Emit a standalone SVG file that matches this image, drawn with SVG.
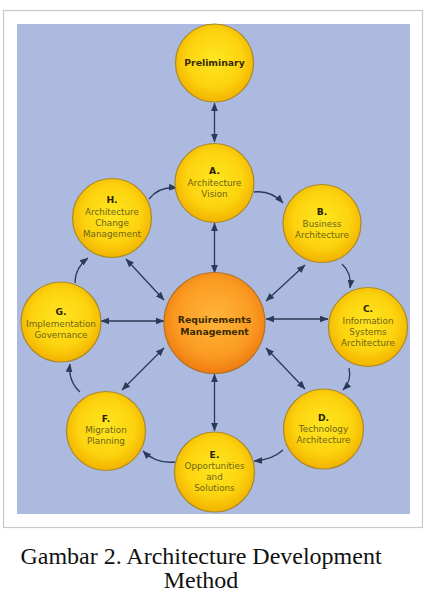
<svg xmlns="http://www.w3.org/2000/svg" width="425" height="593" viewBox="0 0 425 593">
<style>
.frame{fill:#ffffff;stroke:#c9c9c9;stroke-width:1.2}
.panel{fill:#adbadf}
.node circle{fill:url(#gy);stroke:#a88a2c;stroke-width:1.2}
.node circle.req{fill:url(#go);stroke:#b0722a}
.lbl{font-family:"DejaVu Sans",Verdana,sans-serif;font-size:8.8px;fill:#6e6414;text-anchor:middle}
.ltr{font-family:"DejaVu Sans",Verdana,sans-serif;font-size:9.2px;font-weight:bold;fill:#2a2200;text-anchor:middle}
.big{font-family:"DejaVu Sans",Verdana,sans-serif;font-size:9.3px;font-weight:bold;fill:#3a2a00;text-anchor:middle}
.cap{font-family:"Liberation Serif","Times New Roman",serif;font-size:24px;fill:#111;text-anchor:middle}
#connectors path{fill:none;stroke:#2b3a55;stroke-width:1.3}
.two{marker-start:url(#ah);marker-end:url(#ah)}
.one{marker-end:url(#ah)}
</style>
<defs>
<radialGradient id="gy" cx="50%" cy="45%" r="55%">
<stop offset="0" stop-color="#ffe622"/>
<stop offset="0.65" stop-color="#fcd30e"/>
<stop offset="1" stop-color="#f2b200"/>
</radialGradient>
<radialGradient id="go" cx="50%" cy="45%" r="55%">
<stop offset="0" stop-color="#ffb63a"/>
<stop offset="0.7" stop-color="#fb9a22"/>
<stop offset="1" stop-color="#ef7c10"/>
</radialGradient>
<marker id="ah" viewBox="0 0 10 10" refX="9.5" refY="5" markerWidth="8.5" markerHeight="8.5" markerUnits="userSpaceOnUse" orient="auto-start-reverse">
<path d="M0,1 L10,5 L0,9 Z" fill="#2b3a55"/>
</marker>
</defs>

<rect class="frame" x="3.5" y="10.5" width="419" height="517"/>
<rect class="panel" x="17" y="24" width="393" height="490"/>

<g id="connectors">
<path class="two" d="M214.5,103 L214.5,142"/>
<path class="two" d="M214.5,223 L214.5,273"/>
<path class="two" d="M214.5,374 L214.5,431"/>
<path class="two" d="M126,259 L164,300"/>
<path class="two" d="M305,265 L266,301"/>
<path class="two" d="M101,321 L164,321"/>
<path class="two" d="M266,319 L328,319"/>
<path class="two" d="M164,348 L122,390"/>
<path class="two" d="M266,348 L305,389"/>
<path class="one" d="M149,199 Q159,186 177,188"/>
<path class="one" d="M254,192 Q271,190 283,203"/>
<path class="one" d="M342,264 Q352,273 350,288"/>
<path class="one" d="M349,368 Q352,381 343,390"/>
<path class="one" d="M283,450 Q272,460 254,461"/>
<path class="one" d="M175,462 Q156,464 143,451"/>
<path class="one" d="M80,392 Q68,381 70,364"/>
<path class="one" d="M75,283 Q75,268 88,258"/>
</g>

<g id="node-preliminary" class="node">
<circle cx="214.5" cy="63" r="39"/>
<text class="big" x="214.5" y="66" font-size="8.9">Preliminary</text>
</g>
<g id="node-a" class="node">
<circle cx="214.5" cy="183" r="39.5"/>
<text class="ltr" x="214.5" y="174">A.</text>
<text class="lbl" x="214.5" y="186">Architecture</text>
<text class="lbl" x="214.5" y="197">Vision</text>
</g>
<g id="node-b" class="node">
<circle cx="322" cy="223.5" r="39"/>
<text class="ltr" x="322" y="215">B.</text>
<text class="lbl" x="322" y="227">Business</text>
<text class="lbl" x="322" y="238">Architecture</text>
</g>
<g id="node-c" class="node">
<circle cx="368" cy="327" r="39.5"/>
<text class="ltr" x="368" y="312">C.</text>
<text class="lbl" x="368" y="324">Information</text>
<text class="lbl" x="368" y="335">Systems</text>
<text class="lbl" x="368" y="346">Architecture</text>
</g>
<g id="node-d" class="node">
<circle cx="323.5" cy="429" r="40"/>
<text class="ltr" x="323.5" y="421">D.</text>
<text class="lbl" x="323.5" y="432">Technology</text>
<text class="lbl" x="323.5" y="443">Architecture</text>
</g>
<g id="node-e" class="node">
<circle cx="214.5" cy="472" r="40"/>
<text class="ltr" x="214.5" y="458">E.</text>
<text class="lbl" x="214.5" y="469">Opportunities</text>
<text class="lbl" x="214.5" y="480">and</text>
<text class="lbl" x="214.5" y="491">Solutions</text>
</g>
<g id="node-f" class="node">
<circle cx="106" cy="431" r="39.5"/>
<text class="ltr" x="106" y="422">F.</text>
<text class="lbl" x="106" y="433">Migration</text>
<text class="lbl" x="106" y="444">Planning</text>
</g>
<g id="node-g" class="node">
<circle cx="61" cy="322" r="40"/>
<text class="ltr" x="61" y="315">G.</text>
<text class="lbl" x="61" y="327">Implementation</text>
<text class="lbl" x="61" y="338">Governance</text>
</g>
<g id="node-h" class="node">
<circle cx="112" cy="218" r="39.5"/>
<text class="ltr" x="112" y="203">H.</text>
<text class="lbl" x="112" y="215">Architecture</text>
<text class="lbl" x="112" y="226">Change</text>
<text class="lbl" x="112" y="237">Management</text>
</g>
<g id="node-req" class="node">
<circle class="req" cx="214.5" cy="323" r="50.5"/>
<text class="big" x="214.5" y="323">Requirements</text>
<text class="big" x="214.5" y="335">Management</text>
</g>

<text class="cap" x="201" y="564">Gambar 2. Architecture Development</text>
<text class="cap" x="201" y="588">Method</text>
</svg>
